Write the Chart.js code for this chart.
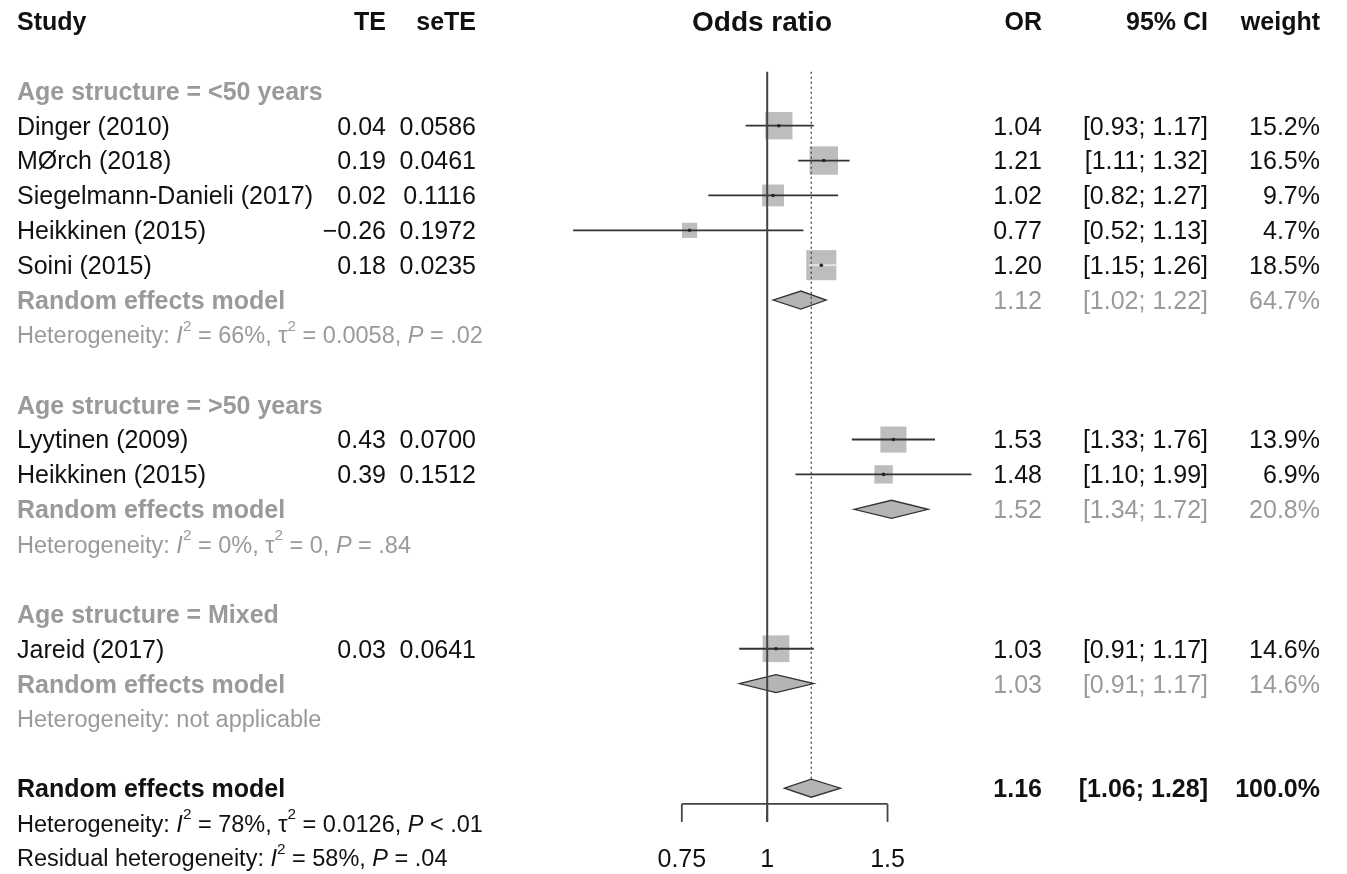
<!DOCTYPE html>
<html><head><meta charset="utf-8">
<script src="https://cdn.jsdelivr.net/npm/chart.js@4"></script>
<style>html,body{margin:0;padding:0;background:#fff;}#wrap{width:1347px;height:874px;position:relative;}</style>
</head><body><div id="wrap"><canvas id="c"></canvas></div>
<script>
// ---------- data ----------
const studyLabels = ['Dinger (2010)', 'MØrch (2018)', 'Siegelmann-Danieli (2017)', 'Heikkinen (2015)', 'Soini (2015)', 'Lyytinen (2009)', 'Heikkinen (2015)', 'Jareid (2017)'];
const studyGroups = [0, 0, 0, 0, 0, 1, 1, 2];
const studyTE = [0.04, 0.19, 0.02, -0.26, 0.18, 0.43, 0.39, 0.03];
const studySeTE = ['0.0586', '0.0461', '0.1116', '0.1972', '0.0235', '0.0700', '0.1512', '0.0641'];
const studyOR = [1.04, 1.21, 1.02, 0.77, 1.20, 1.53, 1.48, 1.03];
const studyLower = [0.93, 1.11, 0.82, 0.52, 1.15, 1.33, 1.10, 0.91];
const studyUpper = [1.17, 1.32, 1.27, 1.13, 1.26, 1.76, 1.99, 1.17];
const studyWeight = [15.2, 16.5, 9.7, 4.7, 18.5, 13.9, 6.9, 14.6];

const groupLabels = ['Age structure = <50 years', 'Age structure = >50 years', 'Age structure = Mixed'];
const groupOR = [1.12, 1.52, 1.03];
const groupLower = [1.02, 1.34, 0.91];
const groupUpper = [1.22, 1.72, 1.17];
const groupWeight = [64.7, 20.8, 14.6];
const groupI2 = ['66%', '0%', null];
const groupTau2 = ['0.0058', '0', null];
const groupP = ['= .02', '= .84', null];

const overallLabel = 'Random effects model';
const overallOR = [1.16];
const overallLower = [1.06];
const overallUpper = [1.28];
const overallWeight = [100.0];
const overallI2 = '78%', overallTau2 = '0.0126', overallP = '< .01';
const residualI2 = '58%', residualP = '= .04';

const headerLabels = ['Study', 'TE', 'seTE', 'Odds ratio', 'OR', '95% CI', 'weight'];
const axisTicks = [0.75, 1, 1.5];
const axisTickLabels = ['0.75', '1', '1.5'];

// ---------- layout (rows) ----------
const rows = [];
const studyRow = [];
const groupRow = [];
let r = 2;
groupLabels.forEach((g, gi) => {
  rows.push({ kind: 'group', row: r++, gi });
  studyLabels.forEach((s, si) => { if (studyGroups[si] === gi) { studyRow[si] = r; rows.push({ kind: 'study', row: r++, si }); } });
  groupRow[gi] = r;
  rows.push({ kind: 're', row: r++, gi });
  rows.push({ kind: 'het', row: r++, gi });
  r++;
});
const overallRow = r;
rows.push({ kind: 'overall', row: r++ });
rows.push({ kind: 'ohet', row: r++ });
rows.push({ kind: 'rhet', row: r++ });

const BLACK = '#111', GRAY = '#9a9a9a';
const FONT = '"Liberation Sans", Arial, Helvetica, sans-serif';
const COL = { study: 17, te: 386, se: 476, or: 1042, ci: 1208, w: 1320, title: 762 };
const SQ = 3.5; // half side per sqrt(weight)
const TXT_DY = 2;
const HET_SIZE = 23.5;

const fmt2 = v => (v < 0 ? '\u2212' : '') + Math.abs(v).toFixed(2);
const ciStr = (lo, hi) => '[' + lo.toFixed(2) + '; ' + hi.toFixed(2) + ']';

function drawText(ctx, s, x, y, o) {
  o = o || {};
  ctx.save();
  ctx.font = (o.italic ? 'italic ' : '') + (o.bold ? 'bold ' : '') + (o.size || 25) + 'px ' + FONT;
  ctx.fillStyle = o.color || BLACK;
  ctx.textAlign = o.align || 'left';
  ctx.textBaseline = 'middle';
  ctx.fillText(s, x, y + TXT_DY);
  const w = ctx.measureText(s).width;
  ctx.restore();
  return w;
}
function drawRich(ctx, segs, x, y, size, color) {
  let cx = x;
  segs.forEach(sg => {
    if (sg.sup) {
      cx += drawText(ctx, sg.t, cx, y - size * 0.42, { size: size * 0.65, color });
    } else {
      cx += drawText(ctx, sg.t, cx, y, { size, color, italic: !!sg.it });
    }
  });
}
function hetSegs(i2, tau2, p) {
  return [{ t: 'Heterogeneity: ' }, { t: 'I', it: 1 }, { t: '2', sup: 1 }, { t: ' = ' + i2 + ', ' },
    { t: '\u03c4' }, { t: '2', sup: 1 }, { t: ' = ' + tau2 + ', ' }, { t: 'P', it: 1 }, { t: ' ' + p }];
}

const forestPlugin = {
  id: 'forest',
  afterDatasetsDraw(chart) {
    const ctx = chart.ctx, xs = chart.scales.x, ys = chart.scales.y;
    const X = v => xs.getPixelForValue(v), Y = v => ys.getPixelForValue(v);
    // diamonds
    const diamond = (lo, est, hi, row) => {
      const y = Y(row), h = 9;
      ctx.save();
      ctx.beginPath();
      ctx.moveTo(X(lo), y); ctx.lineTo(X(est), y - h); ctx.lineTo(X(hi), y); ctx.lineTo(X(est), y + h); ctx.closePath();
      ctx.fillStyle = '#b4b4b4'; ctx.fill();
      ctx.strokeStyle = '#333'; ctx.lineWidth = 1.3; ctx.stroke();
      ctx.restore();
    };
    groupOR.forEach((v, gi) => diamond(groupLower[gi], v, groupUpper[gi], groupRow[gi]));
    diamond(overallLower[0], overallOR[0], overallUpper[0], overallRow);

    // reference lines
    const topRow = 1.45, axisRow = overallRow + 0.45, tickLen = 18;
    const axisY = Y(axisRow);
    ctx.save();
    ctx.strokeStyle = '#444'; ctx.lineWidth = 2;
    ctx.beginPath(); ctx.moveTo(X(1), Y(topRow)); ctx.lineTo(X(1), axisY + tickLen); ctx.stroke();
    ctx.lineWidth = 1.3; ctx.setLineDash([2, 3]);
    ctx.beginPath(); ctx.moveTo(X(overallOR[0]), Y(topRow)); ctx.lineTo(X(overallOR[0]), Y(overallRow) - 9); ctx.stroke();
    ctx.setLineDash([]);
    // axis
    ctx.lineWidth = 1.8; ctx.strokeStyle = '#444';
    ctx.beginPath(); ctx.moveTo(X(axisTicks[0]), axisY); ctx.lineTo(X(axisTicks[axisTicks.length - 1]), axisY); ctx.stroke();
    axisTicks.forEach((t, i) => {
      ctx.beginPath(); ctx.moveTo(X(t), axisY); ctx.lineTo(X(t), axisY + tickLen); ctx.stroke();
      drawText(ctx, axisTickLabels[i], X(t), Y(overallRow + 2), { align: 'center' });
    });
    ctx.restore();

    // header
    const hy = Y(0);
    drawText(ctx, headerLabels[0], COL.study, hy, { bold: true });
    drawText(ctx, headerLabels[1], COL.te, hy, { bold: true, align: 'right' });
    drawText(ctx, headerLabels[2], COL.se, hy, { bold: true, align: 'right' });
    drawText(ctx, headerLabels[3], COL.title, hy, { bold: true, align: 'center', size: 28 });
    drawText(ctx, headerLabels[4], COL.or, hy, { bold: true, align: 'right' });
    drawText(ctx, headerLabels[5], COL.ci, hy, { bold: true, align: 'right' });
    drawText(ctx, headerLabels[6], COL.w, hy, { bold: true, align: 'right' });

    rows.forEach(rw => {
      const y = Y(rw.row);
      if (rw.kind === 'group') {
        drawText(ctx, groupLabels[rw.gi], COL.study, y, { bold: true, color: GRAY });
      } else if (rw.kind === 'study') {
        const i = rw.si;
        drawText(ctx, studyLabels[i], COL.study, y);
        drawText(ctx, fmt2(studyTE[i]), COL.te, y, { align: 'right' });
        drawText(ctx, studySeTE[i], COL.se, y, { align: 'right' });
        drawText(ctx, studyOR[i].toFixed(2), COL.or, y, { align: 'right' });
        drawText(ctx, ciStr(studyLower[i], studyUpper[i]), COL.ci, y, { align: 'right' });
        drawText(ctx, studyWeight[i].toFixed(1) + '%', COL.w, y, { align: 'right' });
      } else if (rw.kind === 're') {
        const g = rw.gi;
        drawText(ctx, 'Random effects model', COL.study, y, { bold: true, color: GRAY });
        drawText(ctx, groupOR[g].toFixed(2), COL.or, y, { align: 'right', color: GRAY });
        drawText(ctx, ciStr(groupLower[g], groupUpper[g]), COL.ci, y, { align: 'right', color: GRAY });
        drawText(ctx, groupWeight[g].toFixed(1) + '%', COL.w, y, { align: 'right', color: GRAY });
      } else if (rw.kind === 'het') {
        const g = rw.gi;
        if (groupI2[g] === null) drawText(ctx, 'Heterogeneity: not applicable', COL.study, y, { size: HET_SIZE, color: GRAY });
        else drawRich(ctx, hetSegs(groupI2[g], groupTau2[g], groupP[g]), COL.study, y, HET_SIZE, GRAY);
      } else if (rw.kind === 'overall') {
        drawText(ctx, overallLabel, COL.study, y, { bold: true });
        drawText(ctx, overallOR[0].toFixed(2), COL.or, y, { align: 'right', bold: true });
        drawText(ctx, ciStr(overallLower[0], overallUpper[0]), COL.ci, y, { align: 'right', bold: true });
        drawText(ctx, overallWeight[0].toFixed(1) + '%', COL.w, y, { align: 'right', bold: true });
      } else if (rw.kind === 'ohet') {
        drawRich(ctx, hetSegs(overallI2, overallTau2, overallP), COL.study, y, HET_SIZE, BLACK);
      } else if (rw.kind === 'rhet') {
        drawRich(ctx, [{ t: 'Residual heterogeneity: ' }, { t: 'I', it: 1 }, { t: '2', sup: 1 }, { t: ' = ' + residualI2 + ', ' }, { t: 'P', it: 1 }, { t: ' ' + residualP }], COL.study, y, HET_SIZE, BLACK);
      }
    });
  }
};

// ---------- datasets ----------
const datasets = [];
// CI lines (drawn on top of squares)
studyLabels.forEach((s, i) => {
  datasets.push({
    type: 'line',
    data: [{ x: studyLower[i], y: studyRow[i] }, { x: studyUpper[i], y: studyRow[i] }],
    borderColor: (c) => {
      const xs = c.chart.scales.x;
      if (!xs) return '#333';
      const half = SQ * Math.sqrt(studyWeight[i]);
      const px = xs.getPixelForValue(studyOR[i]);
      const inside = xs.getPixelForValue(studyLower[i]) >= px - half && xs.getPixelForValue(studyUpper[i]) <= px + half;
      return inside ? '#e8e8e8' : '#333';
    },
    borderWidth: 1.8, pointRadius: 0, order: 1
  });
});
// centre marks
datasets.push({
  type: 'scatter',
  data: studyOR.map((v, i) => ({ x: v, y: studyRow[i] })),
  pointRadius: 1.8, pointStyle: 'circle', backgroundColor: '#222', borderWidth: 0, order: 0
});
// squares
datasets.push({
  type: 'scatter',
  data: studyOR.map((v, i) => ({ x: v, y: studyRow[i] })),
  pointStyle: 'rect',
  pointRadius: studyWeight.map(w => SQ * Math.sqrt(w) / Math.SQRT1_2),
  backgroundColor: '#bdbdbd', borderWidth: 0, order: 3
});

new Chart(document.getElementById('c'), {
  type: 'scatter',
  data: { datasets },
  options: {
    responsive: true, maintainAspectRatio: false, animation: false, events: [],
    layout: { padding: 0, autoPadding: false },
    plugins: { legend: { display: false }, tooltip: { enabled: false } },
    scales: {
      x: { type: 'logarithmic', min: 0.07541, max: 7.053, bounds: 'data', display: false },
      y: { type: 'linear', min: -0.6048, max: 24.46, reverse: true, display: false }
    }
  },
  plugins: [forestPlugin]
});
</script></body></html>
